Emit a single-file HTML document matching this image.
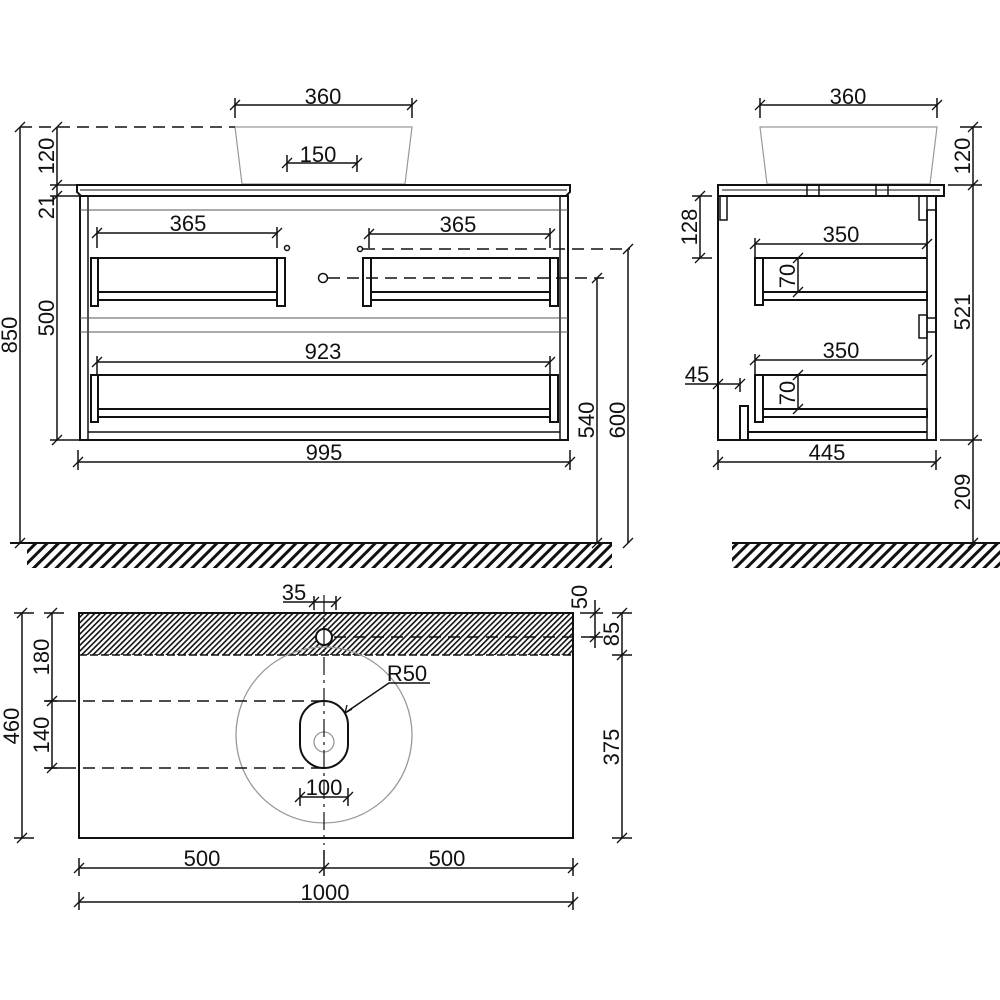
<!DOCTYPE html>
<html><head><meta charset="utf-8"><style>
html,body{margin:0;padding:0;background:#fff;}
svg{display:block}
text{font-family:"Liberation Sans",sans-serif;font-size:22px;fill:#111;}
</style></head><body>
<svg width="1000" height="1000" viewBox="0 0 1000 1000" xmlns="http://www.w3.org/2000/svg">
<defs>
<pattern id="g" width="8" height="8" patternUnits="userSpaceOnUse" patternTransform="rotate(45)">
<rect width="3" height="8" fill="#111"/></pattern>
<pattern id="h" width="4" height="4" patternUnits="userSpaceOnUse" patternTransform="rotate(45)">
<rect width="1.6" height="4" fill="#111"/></pattern>
</defs>
<g stroke="#111" fill="none" stroke-width="1.5">
<line x1="10" y1="543" x2="612" y2="543" stroke-width="2"/>
<rect x="27" y="544" width="585" height="24" fill="url(#g)" stroke="none"/>
<line x1="732" y1="543" x2="1000" y2="543" stroke-width="2"/>
<rect x="732" y="544" width="268" height="24" fill="url(#g)" stroke="none"/>

<polygon points="235,127 412,127 405,184 242,184" stroke="#999" stroke-width="1.2"/>
<line x1="20" y1="127" x2="235" y2="127" stroke-dasharray="12,7"/>
<path d="M77,185 L570,185 L570,192 L566,196 L81,196 L77,192 Z" stroke-width="2"/>
<line x1="80" y1="190" x2="567" y2="190" stroke-width="1"/>
<rect x="80" y="196" width="488" height="244" stroke-width="2"/>
<line x1="88" y1="196" x2="88" y2="440"/>
<line x1="560" y1="196" x2="560" y2="440"/>
<line x1="80" y1="210" x2="568" y2="210" stroke="#555" stroke-width="1"/>
<line x1="80" y1="318" x2="568" y2="318" stroke="#555" stroke-width="1"/>
<line x1="80" y1="332" x2="568" y2="332" stroke="#555" stroke-width="1"/>
<line x1="88" y1="432" x2="560" y2="432"/>
<g stroke-width="2">
<line x1="91" y1="258" x2="285" y2="258"/><rect x="91" y="258" width="7" height="48"/><rect x="277" y="258" width="8" height="48"/><rect x="98" y="292" width="179" height="8"/>
<line x1="363" y1="258" x2="558" y2="258"/><rect x="363" y="258" width="8" height="48"/><rect x="550" y="258" width="8" height="48"/><rect x="371" y="292" width="179" height="8"/>
<line x1="91" y1="375" x2="558" y2="375"/><rect x="91" y="375" width="7" height="47"/><rect x="550" y="375" width="8" height="47"/><rect x="98" y="409" width="452" height="8"/>
</g>
<circle cx="287" cy="248" r="2.5"/><circle cx="360" cy="249" r="2.5"/><circle cx="323" cy="278" r="4.5"/>
<line x1="363" y1="249" x2="630" y2="249" stroke-dasharray="12,7"/>
<line x1="328" y1="278" x2="604" y2="278" stroke-dasharray="12,7"/>
<line x1="20" y1="127" x2="20" y2="543"/>
<line x1="57" y1="127" x2="57" y2="196"/><line x1="57" y1="196" x2="57" y2="440"/>
<line x1="50" y1="185" x2="80" y2="185"/><line x1="50" y1="196" x2="80" y2="196"/><line x1="50" y1="440" x2="80" y2="440"/>
<line x1="597" y1="278" x2="597" y2="543"/><line x1="628" y1="249" x2="628" y2="543"/>
<line x1="235" y1="105" x2="412" y2="105"/><line x1="235" y1="98" x2="235" y2="118"/><line x1="412" y1="98" x2="412" y2="118"/>
<line x1="287" y1="163" x2="357" y2="163"/><line x1="287" y1="155" x2="287" y2="172"/><line x1="357" y1="155" x2="357" y2="172"/>
<line x1="97" y1="233" x2="277" y2="233"/><line x1="97" y1="227" x2="97" y2="248"/><line x1="277" y1="227" x2="277" y2="248"/>
<line x1="369" y1="234" x2="550" y2="234"/><line x1="369" y1="228" x2="369" y2="248"/><line x1="550" y1="228" x2="550" y2="248"/>
<line x1="97" y1="362" x2="550" y2="362"/><line x1="97" y1="356" x2="97" y2="375"/><line x1="550" y1="356" x2="550" y2="375"/>
<line x1="78" y1="462" x2="570" y2="462"/><line x1="78" y1="450" x2="78" y2="470"/><line x1="570" y1="450" x2="570" y2="470"/>
<g stroke-width="1.3">
<path d="M15,132l10,-10M52,132l10,-10M52,190l10,-10M52,201l10,-10M52,445l10,-10M15,548l10,-10M592,283l10,-10M592,548l10,-10M623,254l10,-10M623,548l10,-10M230,110l10,-10M407,110l10,-10M282,168l10,-10M352,168l10,-10M92,238l10,-10M272,238l10,-10M364,239l10,-10M545,239l10,-10M92,367l10,-10M545,367l10,-10M73,467l10,-10M565,467l10,-10"/>
</g>

<polygon points="760,127 937,127 930,184 767,184" stroke="#999" stroke-width="1.2"/>
<path d="M718,185 L944,185 L944,196 L718,196 Z" stroke-width="2"/>
<line x1="722" y1="190" x2="940" y2="190" stroke-width="1"/>
<rect x="807" y="185" width="12" height="11"/><rect x="876" y="185" width="12" height="11"/>
<rect x="718" y="196" width="218" height="244" stroke-width="2"/>
<rect x="720" y="196" width="7" height="24"/>
<rect x="919" y="196" width="8" height="24"/>
<path d="M927,210 L936,210 L936,318 L927,318 Z"/>
<rect x="919" y="315" width="8" height="23"/>
<path d="M927,332 L936,332"/>
<line x1="927" y1="210" x2="927" y2="440"/>
<g stroke-width="2">
<rect x="755" y="258" width="8" height="47"/><line x1="763" y1="258" x2="927" y2="258"/><rect x="763" y="292" width="164" height="8"/>
<rect x="755" y="375" width="8" height="47"/><line x1="763" y1="375" x2="927" y2="375"/><rect x="763" y="409" width="164" height="8"/>
<rect x="740" y="406" width="8" height="34"/><line x1="748" y1="432" x2="927" y2="432"/>
</g>
<line x1="760" y1="105" x2="937" y2="105"/><line x1="760" y1="98" x2="760" y2="118"/><line x1="937" y1="98" x2="937" y2="118"/>
<line x1="973" y1="127" x2="973" y2="543"/>
<line x1="960" y1="127" x2="982" y2="127"/><line x1="948" y1="185" x2="982" y2="185"/><line x1="940" y1="440" x2="982" y2="440"/>
<line x1="700" y1="196" x2="700" y2="258"/><line x1="692" y1="196" x2="712" y2="196"/><line x1="692" y1="258" x2="712" y2="258"/>
<line x1="755" y1="244" x2="927" y2="244"/><line x1="755" y1="238" x2="755" y2="258"/>
<line x1="755" y1="360" x2="927" y2="360"/><line x1="755" y1="354" x2="755" y2="375"/>
<line x1="798" y1="258" x2="798" y2="292"/><line x1="798" y1="375" x2="798" y2="409"/>
<line x1="685" y1="384" x2="740" y2="384"/><line x1="740" y1="378" x2="740" y2="392"/>
<line x1="718" y1="462" x2="936" y2="462"/><line x1="718" y1="450" x2="718" y2="470"/><line x1="936" y1="450" x2="936" y2="470"/>
<path d="M755,110l10,-10M932,110l10,-10M968,132l10,-10M968,190l10,-10M968,445l10,-10M968,548l10,-10M695,201l10,-10M695,263l10,-10M750,249l10,-10M922,249l10,-10M750,365l10,-10M922,365l10,-10M793,263l10,-10M793,297l10,-10M793,380l10,-10M793,414l10,-10M713,389l10,-10M735,389l10,-10M713,467l10,-10M931,467l10,-10" stroke-width="1.3"/>

<rect x="80" y="613" width="493" height="42" fill="url(#h)" stroke="none"/>
<rect x="79" y="613" width="494" height="225" stroke-width="2"/>
<line x1="79" y1="655" x2="573" y2="655" stroke-dasharray="8,3"/>
<circle cx="324" cy="735" r="88" stroke="#999" stroke-width="1.3"/>
<circle cx="324" cy="637" r="8" stroke-width="2" fill="#fff"/>
<rect x="300" y="701" width="48" height="67" rx="24" stroke-width="2" fill="#fff"/>
<circle cx="324" cy="742" r="10" stroke="#999" stroke-width="1.3"/>
<line x1="324" y1="595" x2="324" y2="845" stroke-dasharray="18,5,3,5" stroke-width="1.2"/>
<line x1="45" y1="701" x2="324" y2="701" stroke-dasharray="12,7"/>
<line x1="45" y1="768" x2="324" y2="768" stroke-dasharray="12,7"/>
<line x1="334" y1="637" x2="598" y2="637" stroke-dasharray="12,7"/>
<line x1="22" y1="613" x2="22" y2="838"/><line x1="14" y1="613" x2="34" y2="613"/><line x1="14" y1="838" x2="34" y2="838"/>
<line x1="52" y1="613" x2="52" y2="768"/><line x1="44" y1="613" x2="64" y2="613"/><line x1="44" y1="701" x2="64" y2="701"/><line x1="44" y1="768" x2="64" y2="768"/>
<line x1="283" y1="602" x2="336" y2="602"/><line x1="314" y1="596" x2="314" y2="610"/><line x1="336" y1="596" x2="336" y2="610"/>
<line x1="595" y1="600" x2="595" y2="648"/><line x1="580" y1="613" x2="603" y2="613"/><line x1="590" y1="637" x2="603" y2="637"/>
<line x1="622" y1="613" x2="622" y2="838"/><line x1="612" y1="613" x2="632" y2="613"/><line x1="612" y1="655" x2="632" y2="655"/><line x1="612" y1="838" x2="632" y2="838"/>
<line x1="300" y1="797" x2="348" y2="797"/><line x1="300" y1="788" x2="300" y2="806"/><line x1="348" y1="788" x2="348" y2="806"/>
<polyline points="345,713 389,683 430,683"/>
<line x1="79" y1="868" x2="573" y2="868"/><line x1="79" y1="858" x2="79" y2="876"/><line x1="324" y1="850" x2="324" y2="876"/><line x1="573" y1="858" x2="573" y2="876"/>
<line x1="79" y1="902" x2="573" y2="902"/><line x1="79" y1="892" x2="79" y2="910"/><line x1="573" y1="892" x2="573" y2="910"/>
<path d="M17,618l10,-10M17,843l10,-10M47,618l10,-10M47,706l10,-10M47,773l10,-10M309,607l10,-10M331,607l10,-10M590,618l10,-10M590,642l10,-10M617,618l10,-10M617,660l10,-10M617,843l10,-10M295,802l10,-10M343,802l10,-10M74,873l10,-10M319,873l10,-10M568,873l10,-10M74,907l10,-10M568,907l10,-10" stroke-width="1.3"/>
<path d="M345,713l2,-8M345,713l7,-4" stroke-width="1.3"/>
</g>

<g>
<text x="323" y="104" text-anchor="middle">360</text>
<text x="318" y="162" text-anchor="middle">150</text>
<text x="188" y="231" text-anchor="middle">365</text>
<text x="458" y="232" text-anchor="middle">365</text>
<text x="323" y="359" text-anchor="middle">923</text>
<text x="324" y="460" text-anchor="middle">995</text>
<text transform="translate(17,335) rotate(-90)" text-anchor="middle">850</text>
<text transform="translate(54,156) rotate(-90)" text-anchor="middle">120</text>
<text transform="translate(54,207) rotate(-90)" text-anchor="middle">21</text>
<text transform="translate(54,318) rotate(-90)" text-anchor="middle">500</text>
<text transform="translate(594,420) rotate(-90)" text-anchor="middle">540</text>
<text transform="translate(625,420) rotate(-90)" text-anchor="middle">600</text>

<text x="848" y="104" text-anchor="middle">360</text>
<text x="841" y="242" text-anchor="middle">350</text>
<text x="841" y="358" text-anchor="middle">350</text>
<text x="697" y="382" text-anchor="middle">45</text>
<text x="827" y="460" text-anchor="middle">445</text>
<text transform="translate(697,227) rotate(-90)" text-anchor="middle">128</text>
<text transform="translate(795,276) rotate(-90)" text-anchor="middle">70</text>
<text transform="translate(795,393) rotate(-90)" text-anchor="middle">70</text>
<text transform="translate(970,156) rotate(-90)" text-anchor="middle">120</text>
<text transform="translate(970,312) rotate(-90)" text-anchor="middle">521</text>
<text transform="translate(970,492) rotate(-90)" text-anchor="middle">209</text>

<text x="294" y="600" text-anchor="middle">35</text>
<text x="407" y="681" text-anchor="middle">R50</text>
<text x="324" y="795" text-anchor="middle">100</text>
<text x="202" y="866" text-anchor="middle">500</text>
<text x="447" y="866" text-anchor="middle">500</text>
<text x="325" y="900" text-anchor="middle">1000</text>
<text transform="translate(19,726) rotate(-90)" text-anchor="middle">460</text>
<text transform="translate(49,657) rotate(-90)" text-anchor="middle">180</text>
<text transform="translate(49,735) rotate(-90)" text-anchor="middle">140</text>
<text transform="translate(587,597) rotate(-90)" text-anchor="middle">50</text>
<text transform="translate(619,634) rotate(-90)" text-anchor="middle">85</text>
<text transform="translate(619,747) rotate(-90)" text-anchor="middle">375</text>
</g>
</svg>
</body></html>
